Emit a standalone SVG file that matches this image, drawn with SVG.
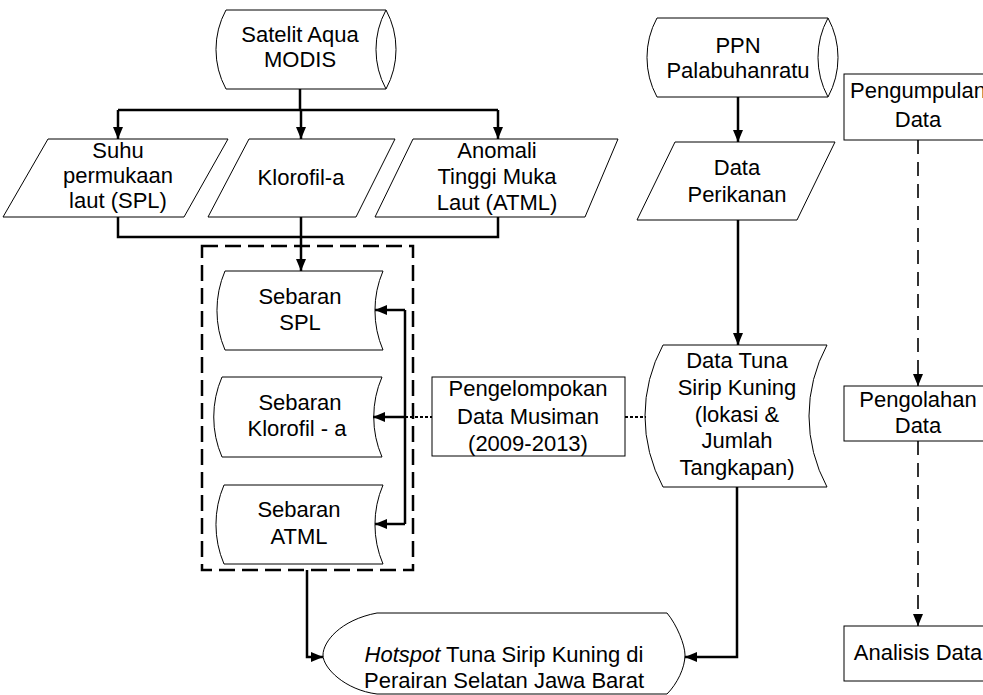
<svg xmlns="http://www.w3.org/2000/svg" width="983" height="695" viewBox="0 0 983 695">
<defs>
<marker id="ah" viewBox="0 0 12 10" refX="12" refY="5" markerWidth="12" markerHeight="10" markerUnits="userSpaceOnUse" orient="auto">
<path d="M0,0 L12,5 L0,10 Z" fill="#000"/>
</marker>
<style>
.s{fill:#fff;stroke:#000;stroke-width:1}
.t{font-family:"Liberation Sans",Arial,sans-serif;font-size:22px;fill:#000;text-anchor:middle}
.c{fill:none;stroke:#000;stroke-width:2.5}
.d{fill:none;stroke:#000;stroke-width:1.6;stroke-dasharray:14 8}
.dot{fill:none;stroke:#000;stroke-width:2;stroke-dasharray:3 2}
.box{fill:none;stroke:#000;stroke-width:2.5;stroke-dasharray:16 7}
</style>
</defs>
<rect width="983" height="695" fill="#fff"/>

<g id="dashed-group">
<rect class="box" x="202" y="246" width="211" height="324"/>
</g>

<g id="satelit">
<path class="s" d="M226,10 L386,10 A83,83 0 0 1 386,89 L226,89 A83,83 0 0 1 226,10 Z"/>
<path class="s" fill="none" d="M386,10 A83,83 0 0 0 386,89"/>
<text class="t" x="300" y="42">Satelit Aqua</text>
<text class="t" x="300" y="67">MODIS</text>
</g>

<g id="ppn">
<path class="s" d="M657,18 L828,18 A83,83 0 0 1 828,97 L657,97 A83,83 0 0 1 657,18 Z"/>
<path class="s" fill="none" d="M828,18 A83,83 0 0 0 828,97"/>
<text class="t" x="738" y="53">PPN</text>
<text class="t" x="738" y="78">Palabuhanratu</text>
</g>

<g id="spl-input">
<path class="s" d="M48,139 L228,139 L184,217 L3,217 Z"/>
<text class="t" x="118" y="158">Suhu</text>
<text class="t" x="118" y="183">permukaan</text>
<text class="t" x="118" y="208">laut (SPL)</text>
</g>

<g id="klorofil-input">
<path class="s" d="M249,139 L395,139 L356,217 L208,217 Z"/>
<text class="t" x="301" y="185">Klorofil-a</text>
</g>

<g id="atml-input">
<path class="s" d="M413,139 L618,139 L585,217 L375,217 Z"/>
<text class="t" x="497" y="158">Anomali</text>
<text class="t" x="497" y="184">Tinggi Muka</text>
<text class="t" x="497" y="210">Laut (ATML)</text>
</g>

<g id="data-perikanan">
<path class="s" d="M675,142 L835,142 L797,220 L637,220 Z"/>
<text class="t" x="737" y="175">Data</text>
<text class="t" x="737" y="202">Perikanan</text>
</g>

<g id="sebaran-spl">
<path class="s" d="M225,271 L383,271 A101,101 0 0 0 383,350 L225,350 A101,101 0 0 1 225,271 Z"/>
<text class="t" x="300" y="304">Sebaran</text>
<text class="t" x="300" y="330">SPL</text>
</g>

<g id="sebaran-klorofil">
<path class="s" d="M222,377 L382,377 A101,101 0 0 0 382,457 L222,457 A101,101 0 0 1 222,377 Z"/>
<text class="t" x="300" y="410">Sebaran</text>
<text class="t" x="297" y="436">Klorofil - a</text>
</g>

<g id="sebaran-atml">
<path class="s" d="M224,485 L383,485 A101,101 0 0 0 383,564 L224,564 A101,101 0 0 1 224,485 Z"/>
<text class="t" x="299" y="517">Sebaran</text>
<text class="t" x="299" y="544">ATML</text>
</g>

<g id="pengelompokan">
<rect class="s" x="432" y="377" width="193" height="79"/>
<text class="t" x="528" y="396">Pengelompokan</text>
<text class="t" x="528" y="424">Data Musiman</text>
<text class="t" x="528" y="451">(2009-2013)</text>
</g>

<g id="data-tuna">
<path class="s" d="M663,345 L827,345 A149,149 0 0 0 827,487 L663,487 A149,149 0 0 1 663,345 Z"/>
<text class="t" x="737" y="368">Data Tuna</text>
<text class="t" x="737" y="395">Sirip Kuning</text>
<text class="t" x="737" y="422">(lokasi &amp;</text>
<text class="t" x="737" y="448">Jumlah</text>
<text class="t" x="737" y="475">Tangkapan)</text>
</g>

<g id="hotspot">
<path class="s" d="M377,613 L667,613 C677,625 685,645 685,655 C685,668 677,684 667,694 L377,694 C345,690 323,668 323,655 C323,642 340,620 377,613 Z"/>
<text class="t" x="504" y="662"><tspan font-style="italic">Hotspot</tspan> Tuna Sirip Kuning di</text>
<text class="t" x="504" y="688">Perairan Selatan Jawa Barat</text>
</g>

<g id="pengumpulan">
<rect class="s" x="844" y="74" width="160" height="66"/>
<text class="t" x="918" y="98">Pengumpulan</text>
<text class="t" x="918" y="127">Data</text>
</g>

<g id="pengolahan">
<rect class="s" x="844" y="386" width="160" height="55"/>
<text class="t" x="918" y="407">Pengolahan</text>
<text class="t" x="918" y="433">Data</text>
</g>

<g id="analisis">
<rect class="s" x="844" y="626" width="160" height="55"/>
<text class="t" x="918" y="660">Analisis Data</text>
</g>

<g id="connectors">
<path class="c" d="M300,89 L300,110"/>
<path class="c" d="M118,110 L498,110"/>
<path class="c" d="M118,110 L118,139" marker-end="url(#ah)"/>
<path class="c" d="M301,110 L301,139" marker-end="url(#ah)"/>
<path class="c" d="M498,110 L498,139" marker-end="url(#ah)"/>
<path class="c" d="M118,217 L118,237 L498,237 L498,217"/>
<path class="c" d="M301,217 L301,271" marker-end="url(#ah)"/>
<path class="c" d="M405,310 L405,524"/>
<path class="c" d="M405,310 L375,310" marker-end="url(#ah)"/>
<path class="c" d="M405,417 L373,417" marker-end="url(#ah)"/>
<path class="c" d="M405,524 L375,524" marker-end="url(#ah)"/>
<path class="dot" d="M405,417 L432,417"/>
<path class="dot" d="M625,417 L646,417"/>
<path class="c" d="M738,97 L738,142" marker-end="url(#ah)"/>
<path class="c" d="M738,220 L738,345" marker-end="url(#ah)"/>
<path class="c" d="M737,487 L737,657 L685,657" marker-end="url(#ah)"/>
<path class="c" d="M307,570 L307,657 L323,657" marker-end="url(#ah)"/>
<path class="d" d="M918,140 L918,386" marker-end="url(#ah)"/>
<path class="d" d="M918,441 L918,626" marker-end="url(#ah)"/>
</g>
</svg>
